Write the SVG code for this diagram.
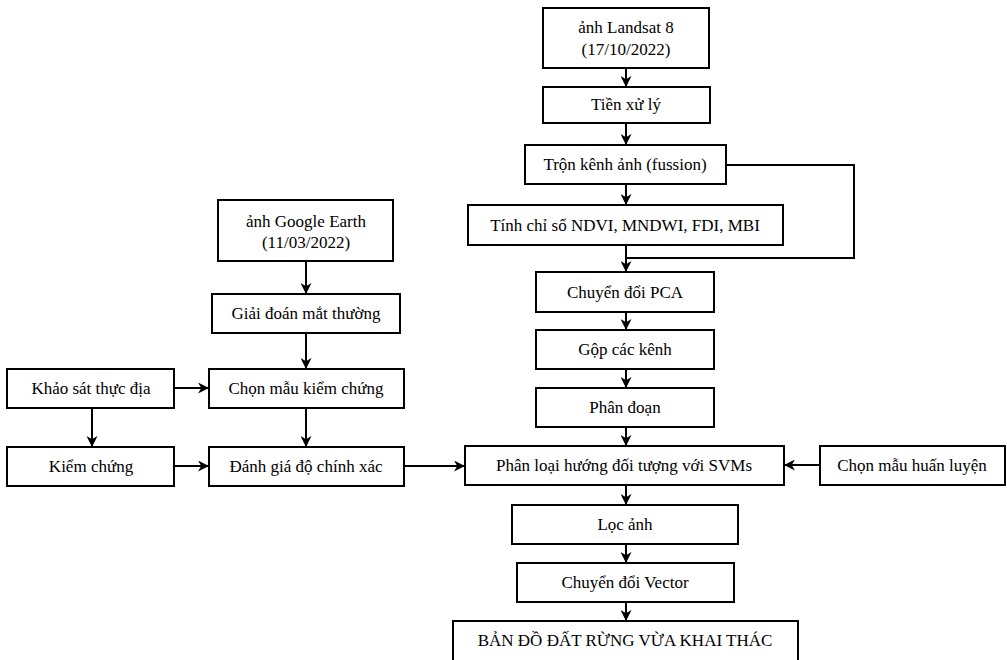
<svg xmlns="http://www.w3.org/2000/svg" width="1007" height="660" viewBox="0 0 1007 660">
<style>
.box{fill:#fff;stroke:#000;stroke-width:2}
.t{font-family:'Liberation Serif','Times New Roman',Tinos,'DejaVu Serif',serif;font-size:17px;fill:#000;text-anchor:middle}
.c{fill:none;stroke:#000;stroke-width:2}
</style>
<defs>
<marker id="ah" viewBox="0 0 10 10" refX="10" refY="5" markerWidth="11" markerHeight="11" markerUnits="userSpaceOnUse" orient="auto">
<path d="M0,0 L10,5 L0,10 L3,5 z" fill="#000"/>
</marker>
</defs>
<rect width="1007" height="660" fill="#fff"/>
<g id="connectors">
<line class="c" x1="626" y1="68" x2="626" y2="87" marker-end="url(#ah)"/>
<line class="c" x1="626" y1="123" x2="626" y2="145" marker-end="url(#ah)"/>
<line class="c" x1="626" y1="184" x2="626" y2="205" marker-end="url(#ah)"/>
<line class="c" x1="626" y1="245" x2="626" y2="272" marker-end="url(#ah)"/>
<polyline class="c" points="726,165 854,165 854,258 626,258"/>
<line class="c" x1="626" y1="312" x2="626" y2="330" marker-end="url(#ah)"/>
<line class="c" x1="626" y1="369" x2="626" y2="388" marker-end="url(#ah)"/>
<line class="c" x1="626" y1="427" x2="626" y2="446" marker-end="url(#ah)"/>
<line class="c" x1="626" y1="485" x2="626" y2="505" marker-end="url(#ah)"/>
<line class="c" x1="626" y1="544" x2="626" y2="563" marker-end="url(#ah)"/>
<line class="c" x1="626" y1="602" x2="626" y2="621" marker-end="url(#ah)"/>
<line class="c" x1="820" y1="465" x2="784" y2="465" marker-end="url(#ah)"/>
<line class="c" x1="404" y1="466" x2="465" y2="466" marker-end="url(#ah)"/>
<line class="c" x1="306" y1="261" x2="306" y2="294" marker-end="url(#ah)"/>
<line class="c" x1="306" y1="333" x2="306" y2="369" marker-end="url(#ah)"/>
<line class="c" x1="306" y1="408" x2="306" y2="447" marker-end="url(#ah)"/>
<line class="c" x1="174" y1="388" x2="209" y2="388" marker-end="url(#ah)"/>
<line class="c" x1="92" y1="408" x2="92" y2="447" marker-end="url(#ah)"/>
<line class="c" x1="174" y1="466" x2="209" y2="466" marker-end="url(#ah)"/>
</g>
<g id="landsat"><rect class="box" x="543" y="8" width="166" height="60"/><text class="t" x="626" y="33">ảnh Landsat 8</text><text class="t" x="626" y="55">(17/10/2022)</text></g>
<g id="tienxuly"><rect class="box" x="543" y="87" width="167" height="36"/><text class="t" x="626" y="110">Tiền xử lý</text></g>
<g id="tronkenh"><rect class="box" x="525" y="145" width="201" height="39"/><text class="t" x="625" y="170">Trộn kênh ảnh (fussion)</text></g>
<g id="tinhchiso"><rect class="box" x="468" y="205" width="315" height="40"/><text class="t" x="625" y="231">Tính chỉ số NDVI, MNDWI, FDI, MBI</text></g>
<g id="pca"><rect class="box" x="536" y="272" width="178" height="40"/><text class="t" x="625" y="298">Chuyển đổi PCA</text></g>
<g id="gop"><rect class="box" x="536" y="330" width="178" height="39"/><text class="t" x="625" y="355">Gộp các kênh</text></g>
<g id="phandoan"><rect class="box" x="536" y="388" width="178" height="39"/><text class="t" x="625" y="413">Phân đoạn</text></g>
<g id="phanloai"><rect class="box" x="465" y="446" width="319" height="39"/><text class="t" x="624" y="471">Phân loại hướng đối tượng với SVMs</text></g>
<g id="huanluyen"><rect class="box" x="820" y="446" width="185" height="39"/><text class="t" x="912" y="471">Chọn mẫu huấn luyện</text></g>
<g id="locanh"><rect class="box" x="512" y="505" width="226" height="39"/><text class="t" x="625" y="530">Lọc ảnh</text></g>
<g id="vector"><rect class="box" x="517" y="563" width="217" height="39"/><text class="t" x="625" y="588">Chuyển đổi Vector</text></g>
<g id="bando"><rect class="box" x="453" y="621" width="345" height="45"/><text class="t" x="625" y="646">BẢN ĐỒ ĐẤT RỪNG VỪA KHAI THÁC</text></g>
<g id="googleearth"><rect class="box" x="218" y="200" width="175" height="61"/><text class="t" x="306" y="227">ảnh Google Earth</text><text class="t" x="306" y="248">(11/03/2022)</text></g>
<g id="giaidoan"><rect class="box" x="212" y="294" width="188" height="39"/><text class="t" x="306" y="319">Giải đoán mắt thường</text></g>
<g id="chonkiemchung"><rect class="box" x="209" y="369" width="195" height="39"/><text class="t" x="306" y="394">Chọn mẫu kiểm chứng</text></g>
<g id="khaosat"><rect class="box" x="7" y="369" width="167" height="39"/><text class="t" x="91" y="394">Khảo sát thực địa</text></g>
<g id="kiemchung"><rect class="box" x="7" y="447" width="167" height="39"/><text class="t" x="91" y="472">Kiểm chứng</text></g>
<g id="danhgia"><rect class="box" x="209" y="447" width="195" height="39"/><text class="t" x="306" y="472">Đánh giá độ chính xác</text></g>
</svg>
